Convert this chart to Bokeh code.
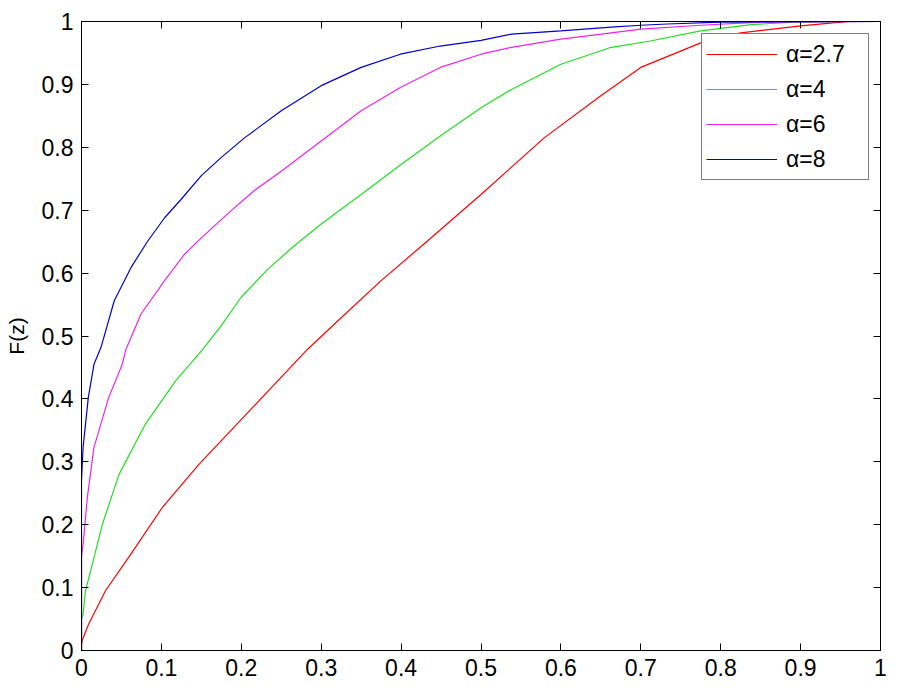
from bokeh.plotting import figure
from bokeh.models import Range1d, LinearAxis, FixedTicker, Legend, LegendItem
from bokeh.embed import file_html
from bokeh.resources import INLINE

# ---- data ----
ticks = [0, 0.1, 0.2, 0.3, 0.4, 0.5, 0.6, 0.7, 0.8, 0.9, 1]
tick_labels = ["0", "0.1", "0.2", "0.3", "0.4", "0.5", "0.6", "0.7", "0.8", "0.9", "1"]

series_names = ["\u03b1=2.7", "\u03b1=4", "\u03b1=6", "\u03b1=8"]

red_x = [0, 0, 0.002, 0.009, 0.030, 0.059, 0.101, 0.147, 0.214, 0.283, 0.325, 0.375,
         0.433, 0.500, 0.579, 0.650, 0.700, 0.775, 0.825, 0.900, 0.934, 0.96, 1.0]
red_y = [0, 0.01, 0.02, 0.042, 0.095, 0.148, 0.227, 0.296, 0.386, 0.479, 0.529, 0.588,
         0.651, 0.725, 0.815, 0.882, 0.927, 0.966, 0.982, 0.993, 0.997, 1.0, 1.0]

green_x = [0, 0, 0.002, 0.005, 0.0135, 0.026, 0.047, 0.080, 0.118, 0.152, 0.174, 0.200,
           0.233, 0.266, 0.300, 0.350, 0.399, 0.449, 0.500, 0.538, 0.600, 0.663, 0.712,
           0.775, 0.838, 0.893, 0.95, 1.0]
green_y = [0, 0.05, 0.058, 0.095, 0.137, 0.20, 0.28, 0.36, 0.429, 0.479, 0.515, 0.562,
           0.606, 0.643, 0.678, 0.725, 0.772, 0.818, 0.863, 0.892, 0.932, 0.959, 0.969,
           0.985, 0.995, 0.999, 1.0, 1.0]

magenta_x = [0, 0, 0.002, 0.0073, 0.0156, 0.034, 0.051, 0.0557, 0.0745, 0.104, 0.129,
             0.150, 0.187, 0.216, 0.250, 0.300, 0.350, 0.399, 0.449, 0.500, 0.538, 0.600,
             0.663, 0.700, 0.775, 0.85, 1.0]
magenta_y = [0, 0.15, 0.169, 0.243, 0.323, 0.402, 0.455, 0.479, 0.535, 0.588, 0.630,
             0.656, 0.699, 0.731, 0.762, 0.810, 0.858, 0.895, 0.927, 0.948, 0.959, 0.972,
             0.982, 0.988, 0.994, 0.999, 1.0]

blue_x = [0, 0, 0.002, 0.0085, 0.0156, 0.0244, 0.041, 0.062, 0.083, 0.104, 0.1245, 0.150,
          0.175, 0.204, 0.250, 0.300, 0.350, 0.399, 0.449, 0.500, 0.538, 0.600, 0.663,
          0.700, 0.733, 0.8, 1.0]
blue_y = [0, 0.27, 0.323, 0.402, 0.455, 0.482, 0.556, 0.609, 0.651, 0.688, 0.717, 0.755,
          0.784, 0.815, 0.858, 0.898, 0.927, 0.948, 0.961, 0.970, 0.980, 0.985, 0.991,
          0.994, 0.996, 0.999, 1.0]

colors = ["#ff0000", "#22dd22", "#ee22ee", "#0000cc"]

FONT = "Liberation Sans"

p = figure(width=911, height=685, output_backend="svg", toolbar_location=None,
           x_range=Range1d(0, 1), y_range=Range1d(0, 1),
           min_border_left=81, min_border_right=31, min_border_top=21, min_border_bottom=35)
p.background_fill_color = "white"
p.border_fill_color = "white"
p.outline_line_color = "black"
p.outline_line_width = 1
p.grid.visible = False

ticker = FixedTicker(ticks=ticks)
overrides = {t: s for t, s in zip(ticks, tick_labels)}
blank = {t: "" for t in ticks}

for ax in (p.xaxis[0], p.yaxis[0]):
    ax.ticker = ticker
    ax.major_label_overrides = overrides
    ax.major_tick_in = 7
    ax.major_tick_out = 0
    ax.minor_tick_line_color = None
    ax.axis_line_color = "black"
    ax.major_tick_line_color = "black"
    ax.major_label_text_font = FONT
    ax.major_label_text_font_size = "23px"
    ax.major_label_text_color = "black"
    ax.major_label_standoff = 8

p.yaxis[0].axis_label = "F(z)"
p.yaxis[0].axis_label_text_font = FONT
p.yaxis[0].axis_label_text_font_size = "21px"
p.yaxis[0].axis_label_text_font_style = "normal"
p.yaxis[0].axis_label_text_color = "black"
p.yaxis[0].axis_label_standoff = 11

for side in ("above", "right"):
    ax = LinearAxis(ticker=ticker, major_tick_in=7, major_tick_out=0,
                    minor_tick_line_color=None, major_label_overrides=blank,
                    major_label_standoff=0, axis_line_color="black")
    p.add_layout(ax, side)

xs = [red_x, green_x, magenta_x, blue_x]
ys = [red_y, green_y, magenta_y, blue_y]
renderers = []
for x, y, c in zip(xs, ys, colors):
    r = p.line(x, y, line_color=c, line_width=1.2)
    renderers.append(r)

legend = Legend(items=[LegendItem(label=n, renderers=[r]) for n, r in zip(series_names, renderers)],
                location=(620, 470), orientation="vertical",
                label_text_font=FONT, label_text_font_size="23px", label_text_color="black",
                glyph_width=71, glyph_height=32, label_height=32, label_width=78,
                label_standoff=9, spacing=3, padding=4, margin=0,
                border_line_color="black", border_line_width=1,
                background_fill_color="white", background_fill_alpha=1.0)
p.add_layout(legend, "center")

open("out.html", "w").write(file_html(p, INLINE))
